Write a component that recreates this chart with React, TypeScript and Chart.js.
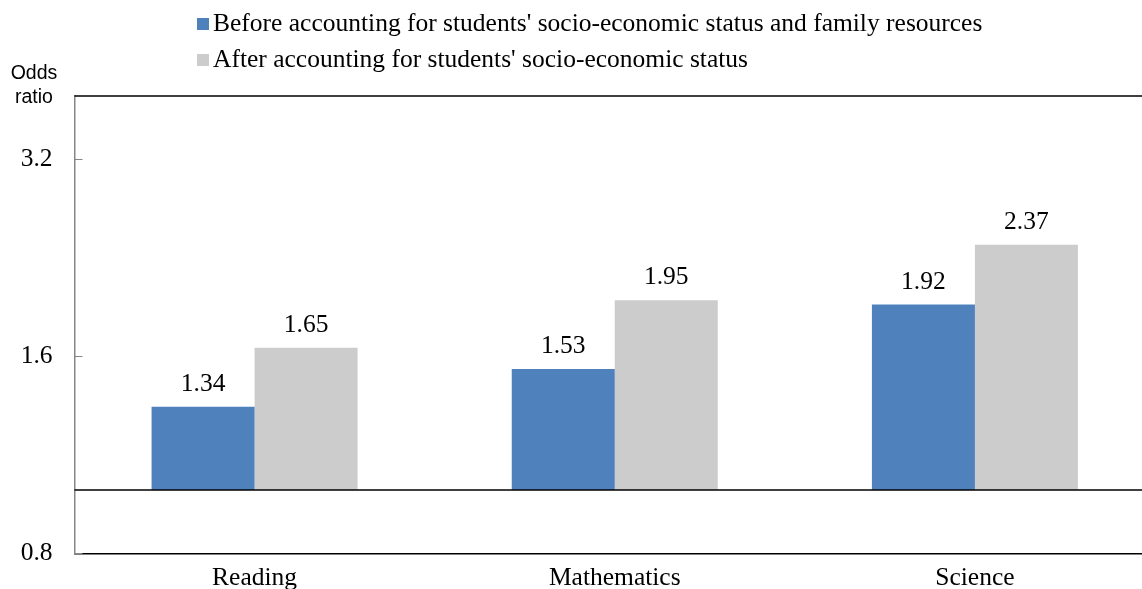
import React, { useEffect, useRef } from "react";
import { Chart, registerables } from "chart.js";

Chart.register(...registerables);

const categories = ["Reading", "Mathematics", "Science"];
const beforeValues = [1.34, 1.53, 1.92];
const afterValues = [1.65, 1.95, 2.37];
const yTicks = [0.8, 1.6, 3.2];
const seriesLabels = [
  "Before accounting for students' socio-economic status and family resources",
  "After accounting for students' socio-economic status",
];
const yTitle = ["Odds", "ratio"];
const baseValue = 1;

const BLUE = "#4F81BD";
const GRAY = "#CCCCCC";
const SERIF = "'Times New Roman', 'Liberation Serif', serif";
const SANS = "Arial, 'Liberation Sans', sans-serif";
const FS = 25.5;

export default function App() {
  const ref = useRef<HTMLCanvasElement>(null);

  useEffect(() => {
    document.body.style.margin = "0";
    document.body.style.overflow = "hidden";
    const canvas = ref.current!;
    const decor = {
      id: "decor",
      afterDatasetsDraw(chart: any) {
        const { ctx, chartArea } = chart;
        const y = chart.scales.y;
        ctx.save();
        ctx.strokeStyle = "#000";
        ctx.lineWidth = 1.5;
        ctx.beginPath();
        ctx.moveTo(chartArea.left, chartArea.top);
        ctx.lineTo(chartArea.right, chartArea.top);
        ctx.stroke();
        const yb = y.getPixelForValue(baseValue);
        ctx.beginPath();
        ctx.moveTo(chartArea.left, yb);
        ctx.lineTo(chartArea.right, yb);
        ctx.stroke();
        ctx.strokeStyle = "#868686";
        ctx.lineWidth = 1;
        yTicks.forEach((v) => {
          const py = Math.round(y.getPixelForValue(v)) + 0.5;
          ctx.beginPath();
          ctx.moveTo(chartArea.left, py);
          ctx.lineTo(chartArea.left + 8, py);
          ctx.stroke();
        });
        ctx.fillStyle = "#000";
        ctx.font = `${FS}px ${SERIF}`;
        ctx.textAlign = "center";
        ctx.textBaseline = "alphabetic";
        chart.data.datasets.forEach((ds: any, di: number) => {
          const meta = chart.getDatasetMeta(di);
          meta.data.forEach((bar: any, i: number) => {
            ctx.fillText(ds.data[i].toFixed(2), bar.x, bar.y - 16);
          });
        });
        ctx.textAlign = "left";
        ctx.textBaseline = "middle";
        const colors = [BLUE, GRAY];
        seriesLabels.forEach((t, i) => {
          const cy = 24 + i * 36;
          ctx.fillStyle = colors[i];
          ctx.fillRect(197, cy - 6, 12, 12);
          ctx.fillStyle = "#000";
          ctx.fillText(t, 213, cy);
        });
        ctx.font = `19.5px ${SANS}`;
        ctx.textAlign = "center";
        ctx.fillText(yTitle[0], 34, 74);
        ctx.fillText(yTitle[1], 34, 98);
        ctx.restore();
      },
    };

    const chart = new Chart(canvas, {
      type: "bar",
      data: {
        labels: categories,
        datasets: [
          { label: seriesLabels[0], data: beforeValues, backgroundColor: BLUE, base: baseValue } as any,
          { label: seriesLabels[1], data: afterValues, backgroundColor: GRAY, base: baseValue } as any,
        ],
      },
      options: {
        animation: false,
        responsive: false,
        maintainAspectRatio: false,
        layout: { padding: { top: 96, right: 0, left: 0, bottom: 0 } },
        datasets: { bar: { barPercentage: 1, categoryPercentage: 0.572 } },
        plugins: { legend: { display: false }, tooltip: { enabled: false }, title: { display: false } },
        scales: {
          x: {
            grid: { display: false, drawTicks: false },
            border: { display: true, color: "#000", width: 1.5 },
            ticks: { color: "#000", font: { family: SERIF, size: FS }, padding: 10 },
          },
          y: {
            type: "logarithmic",
            min: 0.8,
            max: 4,
            grid: { display: false, drawTicks: false },
            border: { display: true, color: "#868686", width: 1.5 },
            ticks: {
              color: "#000",
              font: { family: SERIF, size: FS },
              padding: 22,
              callback: (v: any) => String(v),
            },
            afterBuildTicks(axis: any) {
              axis.ticks = yTicks.map((v) => ({ value: v }));
            },
            afterFit(axis: any) {
              axis.width = 74.5;
            },
          },
        },
      },
      plugins: [decor],
    });
    return () => chart.destroy();
  }, []);

  return (
    <div style={{ width: 1142, height: 589, overflow: "hidden" }}>
      <canvas ref={ref} width={1155} height={604} style={{ display: "block" }} />
    </div>
  );
}
